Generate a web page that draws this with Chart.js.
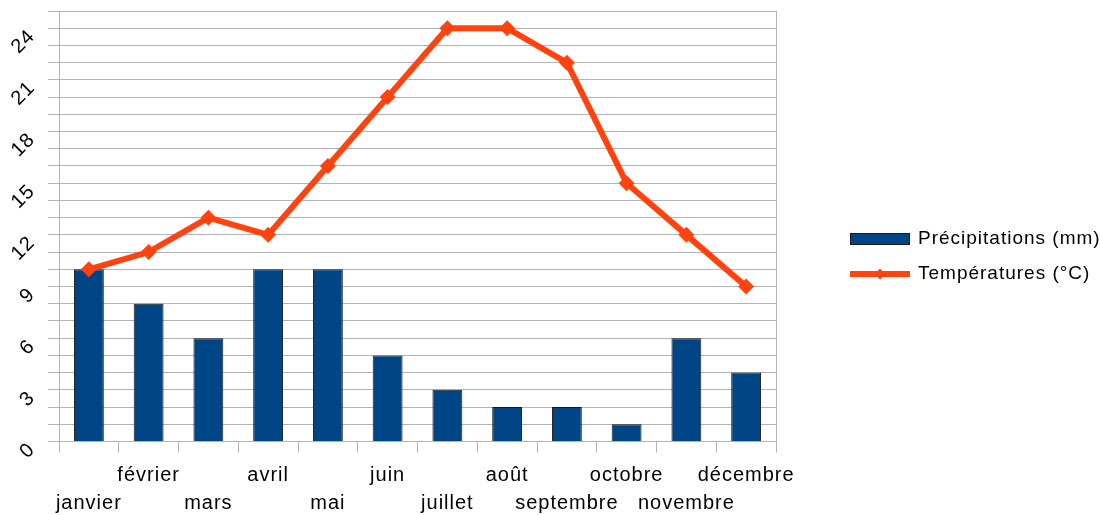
<!DOCTYPE html>
<html><head><meta charset="utf-8">
<script src="https://cdn.jsdelivr.net/npm/chart.js@4"></script>
<style>html,body{margin:0;padding:0;background:#fff;overflow:hidden}#wrap{width:1100px;height:515px;position:relative}</style>
</head><body><div id="wrap"><canvas id="c" width="1100" height="515"></canvas></div>
<script>
const months = ['janvier','février','mars','avril','mai','juin','juillet','août','septembre','octobre','novembre','décembre'];
const precipitations = [10,8,6,10,10,5,3,2,2,1,6,4];
const temperatures = [10,11,13,12,16,20,24,24,22,15,12,9];
const yTickLabels = [0,3,6,9,12,15,18,21,24];
const seriesNames = ['Précipitations (mm)','Températures (°C)'];

const FONT = '"Liberation Sans", Arial, sans-serif';
const BAR_COLOR = '#004586';
const BAR_BORDER = '#1a1a1a';
const LINE_COLOR = '#ff420e';
const GRID = '#b3b3b3';

// staggered category labels (two rows)
const xLabels = months.map((m, i) => i % 2 === 0 ? ['', m] : [m, '']);

const spacingPlugin = {
  id: 'spacing',
  beforeLayout(chart) { chart.ctx.letterSpacing = '1px'; },
  beforeDraw(chart) { chart.ctx.letterSpacing = '1px'; }
};

const legendPlugin = {
  id: 'customLegend',
  afterDraw(chart) {
    const ctx = chart.ctx;
    const x0 = 850, w = 60;
    const rows = [239, 274];
    ctx.save();
    ctx.letterSpacing = '1px';
    // bar item
    ctx.fillStyle = BAR_COLOR;
    ctx.fillRect(x0, rows[0] - 6, w, 12);
    ctx.strokeStyle = BAR_BORDER;
    ctx.lineWidth = 1;
    ctx.strokeRect(x0 + 0.5, rows[0] - 6 + 0.5, w - 1, 11);
    // line item
    ctx.strokeStyle = LINE_COLOR;
    ctx.lineWidth = 6;
    ctx.beginPath();
    ctx.moveTo(x0, rows[1]);
    ctx.lineTo(x0 + w, rows[1]);
    ctx.stroke();
    ctx.fillStyle = LINE_COLOR;
    ctx.beginPath();
    const cx = x0 + w / 2, r = 5.5;
    ctx.moveTo(cx, rows[1] - r); ctx.lineTo(cx + r, rows[1]); ctx.lineTo(cx, rows[1] + r); ctx.lineTo(cx - r, rows[1]);
    ctx.closePath(); ctx.fill();
    // texts
    ctx.fillStyle = '#000';
    ctx.font = '19px ' + FONT;
    ctx.textBaseline = 'middle';
    ctx.textAlign = 'left';
    chart.data.datasets.forEach((ds, i) => ctx.fillText(ds.label, x0 + w + 8, rows[i]));
    ctx.restore();
  }
};

new Chart(document.getElementById('c'), {
  data: {
    labels: xLabels,
    datasets: [
      {
        type: 'bar', label: seriesNames[0], data: precipitations, order: 1,
        backgroundColor: BAR_COLOR, borderColor: BAR_BORDER, borderWidth: 1,
        barPercentage: 0.5, categoryPercentage: 1
      },
      {
        type: 'line', label: seriesNames[1], data: temperatures, order: 0,
        borderColor: LINE_COLOR, borderWidth: 6, tension: 0,
        pointStyle: 'rectRot', pointRadius: 8, pointBorderWidth: 0,
        pointBackgroundColor: LINE_COLOR, pointBorderColor: LINE_COLOR,
        borderJoinStyle: 'miter'
      }
    ]
  },
  options: {
    responsive: false,
    devicePixelRatio: 1,
    animation: false,
    events: [],
    layout: { padding: { top: 11, right: 324, bottom: 0, left: 0 } },
    plugins: { legend: { display: false }, tooltip: { enabled: false } },
    scales: {
      x: {
        offset: true,
        grid: {
          offset: true, drawOnChartArea: true, tickLength: 11, tickColor: GRID,
          color: c => (c.index === undefined ? GRID : 'rgba(0,0,0,0)')
        },
        border: { display: true, color: GRID },
        ticks: {
          font: { family: FONT, size: 20, lineHeight: 1.4 }, color: '#000',
          padding: 9, maxRotation: 0, minRotation: 0, autoSkip: false
        },
        afterFit: s => { s.height = 73.5; }
      },
      y: {
        min: 0, max: 25,
        grid: { color: GRID, tickLength: 11, tickColor: GRID },
        border: { display: true, color: GRID },
        ticks: {
          stepSize: 1, autoSkip: false, minRotation: 45, maxRotation: 45, padding: 16,
          labelOffset: 5,
          font: { family: FONT, size: 20 }, color: '#000',
          callback: v => (yTickLabels.includes(v) ? String(v) : '')
        },
        afterFit: s => { s.width = 59; s.paddingTop = 0; s.paddingBottom = 0; }
      }
    }
  },
  plugins: [spacingPlugin, legendPlugin]
});
</script></body></html>
